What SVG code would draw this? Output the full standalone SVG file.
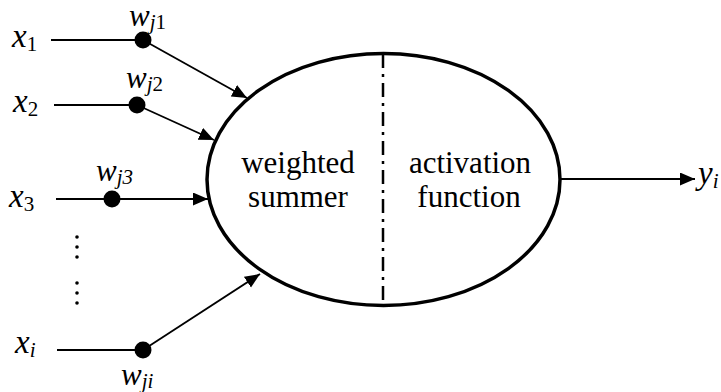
<svg xmlns="http://www.w3.org/2000/svg" width="721" height="392" viewBox="0 0 721 392">
  <defs>
    <marker id="head" markerUnits="userSpaceOnUse" markerWidth="16" markerHeight="14" refX="15" refY="6.5" orient="auto">
      <path d="M0,0 L15,6.5 L0,13 Z" fill="#000"/>
    </marker>
  </defs>
  <rect width="721" height="392" fill="#fff"/>

  <!-- input wires and weighted links; arrows carry the shared marker -->
  <g id="connectors" stroke="#000" stroke-width="1.8" fill="none">
    <line x1="51" y1="40" x2="143" y2="40"/>
    <line x1="143" y1="40" x2="247" y2="98" marker-end="url(#head)"/>
    <line x1="54" y1="105" x2="137" y2="105"/>
    <line x1="137" y1="105" x2="214" y2="140" marker-end="url(#head)"/>
    <line x1="56" y1="199" x2="208" y2="199" marker-end="url(#head)"/>
    <line x1="57" y1="350" x2="143" y2="350"/>
    <line x1="143" y1="350" x2="260" y2="274" marker-end="url(#head)"/>
    <line x1="560" y1="179" x2="695" y2="179" marker-end="url(#head)"/>
  </g>

  <g id="input-1" fill="#000">
    <text font-family="Tinos, 'Times New Roman', 'Liberation Serif', serif" font-style="italic" font-size="33" x="12" y="47">x<tspan font-size="21" font-style="normal" dy="4">1</tspan></text>
    <circle cx="143" cy="40" r="8.5"/>
    <text font-family="Tinos, 'Times New Roman', 'Liberation Serif', serif" font-style="italic" font-size="31" x="129" y="26">w<tspan font-size="21" dy="3">j</tspan><tspan font-size="21" font-style="normal">1</tspan></text>
  </g>
  <g id="input-2" fill="#000">
    <text font-family="Tinos, 'Times New Roman', 'Liberation Serif', serif" font-style="italic" font-size="33" x="13" y="112">x<tspan font-size="21" font-style="normal" dy="4">2</tspan></text>
    <circle cx="137" cy="105" r="8.5"/>
    <text font-family="Tinos, 'Times New Roman', 'Liberation Serif', serif" font-style="italic" font-size="31" x="126" y="88">w<tspan font-size="21" dy="3">j</tspan><tspan font-size="21" font-style="normal">2</tspan></text>
  </g>
  <g id="input-3" fill="#000">
    <text font-family="Tinos, 'Times New Roman', 'Liberation Serif', serif" font-style="italic" font-size="33" x="9" y="207">x<tspan font-size="21" font-style="normal" dy="4">3</tspan></text>
    <circle cx="112" cy="199" r="8.5"/>
    <text font-family="Tinos, 'Times New Roman', 'Liberation Serif', serif" font-style="italic" font-size="31" x="96" y="181">w<tspan font-size="21" dy="3">j3</tspan></text>
  </g>
  <g id="ellipsis" fill="#000">
    <circle cx="77" cy="237" r="1.8"/>
    <circle cx="77" cy="247" r="1.8"/>
    <circle cx="77" cy="257" r="1.8"/>
    <circle cx="77" cy="283" r="1.8"/>
    <circle cx="77" cy="293" r="1.8"/>
    <circle cx="77" cy="303" r="1.8"/>
  </g>
  <g id="input-i" fill="#000">
    <text font-family="Tinos, 'Times New Roman', 'Liberation Serif', serif" font-style="italic" font-size="33" x="15" y="353">x<tspan font-size="21" dy="4">i</tspan></text>
    <circle cx="143" cy="350" r="8.5"/>
    <text font-family="Tinos, 'Times New Roman', 'Liberation Serif', serif" font-style="italic" font-size="31" x="121" y="385">w<tspan font-size="21" dy="3">ji</tspan></text>
  </g>

  <g id="neuron">
    <ellipse cx="383.5" cy="179.5" rx="176.5" ry="126" fill="none" stroke="#000" stroke-width="3.5"/>
    <line x1="383" y1="54" x2="383" y2="305" stroke="#000" stroke-width="2.5" stroke-dasharray="14,6,3,6"/>
    <g font-family="Tinos, 'Times New Roman', 'Liberation Serif', serif" font-size="31" text-anchor="middle" fill="#000">
      <text x="298" y="173">weighted</text>
      <text x="298" y="207">summer</text>
      <text x="470" y="173">activation</text>
      <text x="469" y="207">function</text>
    </g>
  </g>

  <g id="output" fill="#000">
    <text font-family="Tinos, 'Times New Roman', 'Liberation Serif', serif" font-style="italic" font-size="33" x="698" y="184">y<tspan font-size="21" dy="4">i</tspan></text>
  </g>
</svg>
